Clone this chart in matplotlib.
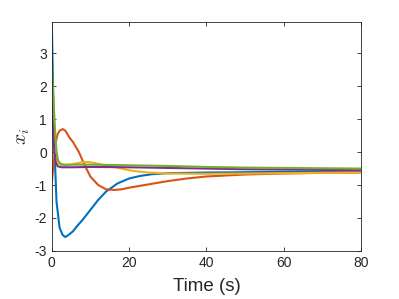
import matplotlib
matplotlib.use("Agg")
import matplotlib.pyplot as plt
import numpy as np

plt.rcParams["font.family"] = ["Liberation Sans", "DejaVu Sans"]
plt.rcParams["mathtext.fontset"] = "cm"
plt.rcParams["axes.unicode_minus"] = False

t_blue = [0, 0.3, 0.7, 1.2, 2.0, 2.8, 3.5, 4.5, 5.5, 6.5, 8, 10, 12, 14, 17, 20, 23, 26, 30, 40, 50, 60, 70, 80]
x_blue = [3.85, 2.0, 0.0, -1.5, -2.3, -2.52, -2.58, -2.5, -2.4, -2.25, -2.05, -1.75, -1.45, -1.2, -0.95, -0.8, -0.72, -0.67, -0.64, -0.62, -0.61, -0.6, -0.6, -0.6]

t_orange = [0, 0.5, 1.0, 1.5, 2.0, 2.8, 3.5, 4.5, 5.5, 7, 8.5, 10, 12, 14, 16, 18, 20, 25, 30, 35, 40, 50, 60, 70, 80]
x_orange = [-0.9, -0.3, 0.3, 0.55, 0.65, 0.7, 0.65, 0.45, 0.3, 0.0, -0.4, -0.75, -1.0, -1.13, -1.15, -1.13, -1.08, -0.98, -0.88, -0.8, -0.74, -0.68, -0.65, -0.63, -0.62]

t_yellow = [0, 0.4, 0.8, 1.2, 1.8, 2.5, 4, 6, 8, 9.5, 11, 13, 15, 18, 21, 25, 30, 40, 50, 60, 70, 80]
x_yellow = [1.7, 1.0, 0.3, -0.15, -0.35, -0.4, -0.4, -0.35, -0.3, -0.3, -0.33, -0.38, -0.42, -0.5, -0.57, -0.62, -0.65, -0.66, -0.65, -0.64, -0.63, -0.62]

t_purple = [0, 0.3, 0.6, 1.0, 1.5, 2.5, 5, 10, 20, 30, 40, 50, 60, 70, 80]
x_purple = [1.5, 0.8, 0.1, -0.3, -0.43, -0.46, -0.46, -0.45, -0.46, -0.48, -0.5, -0.52, -0.53, -0.54, -0.55]

t_green = [0, 0.4, 0.8, 1.2, 1.6, 2.2, 3, 5, 10, 20, 30, 40, 50, 60, 70, 80]
x_green = [2.6, 1.6, 0.7, 0.0, -0.25, -0.35, -0.38, -0.38, -0.38, -0.4, -0.42, -0.45, -0.47, -0.48, -0.49, -0.5]

series = [
    (t_blue, x_blue, "#0072BD"),
    (t_orange, x_orange, "#D95319"),
    (t_yellow, x_yellow, "#EDB120"),
    (t_purple, x_purple, "#7E2F8E"),
    (t_green, x_green, "#77AC30"),
]

fig = plt.figure(figsize=(3.99, 2.99), dpi=100)
ax = fig.add_axes([0.130, 0.161, 0.775, 0.765])
for t, x, c in series:
    ax.plot(t, x, color=c, lw=1.5)

ax.set_xlim(0, 80)
ax.set_ylim(-3, 3.95)
ax.set_xticks([0, 20, 40, 60, 80])
ax.set_yticks([-3, -2, -1, 0, 1, 2, 3])
ax.tick_params(direction="in", top=True, right=True, labelsize=10, colors="#262626", length=3, width=0.6)
for s in ax.spines.values():
    s.set_color("#262626")
    s.set_linewidth(0.6)
ax.set_xlabel("Time (s)", fontsize=13.5, color="#262626", labelpad=6)
ax.set_ylabel("$x_i$", fontsize=14, color="#262626", labelpad=2)
fig.savefig("out.png", dpi=100)
